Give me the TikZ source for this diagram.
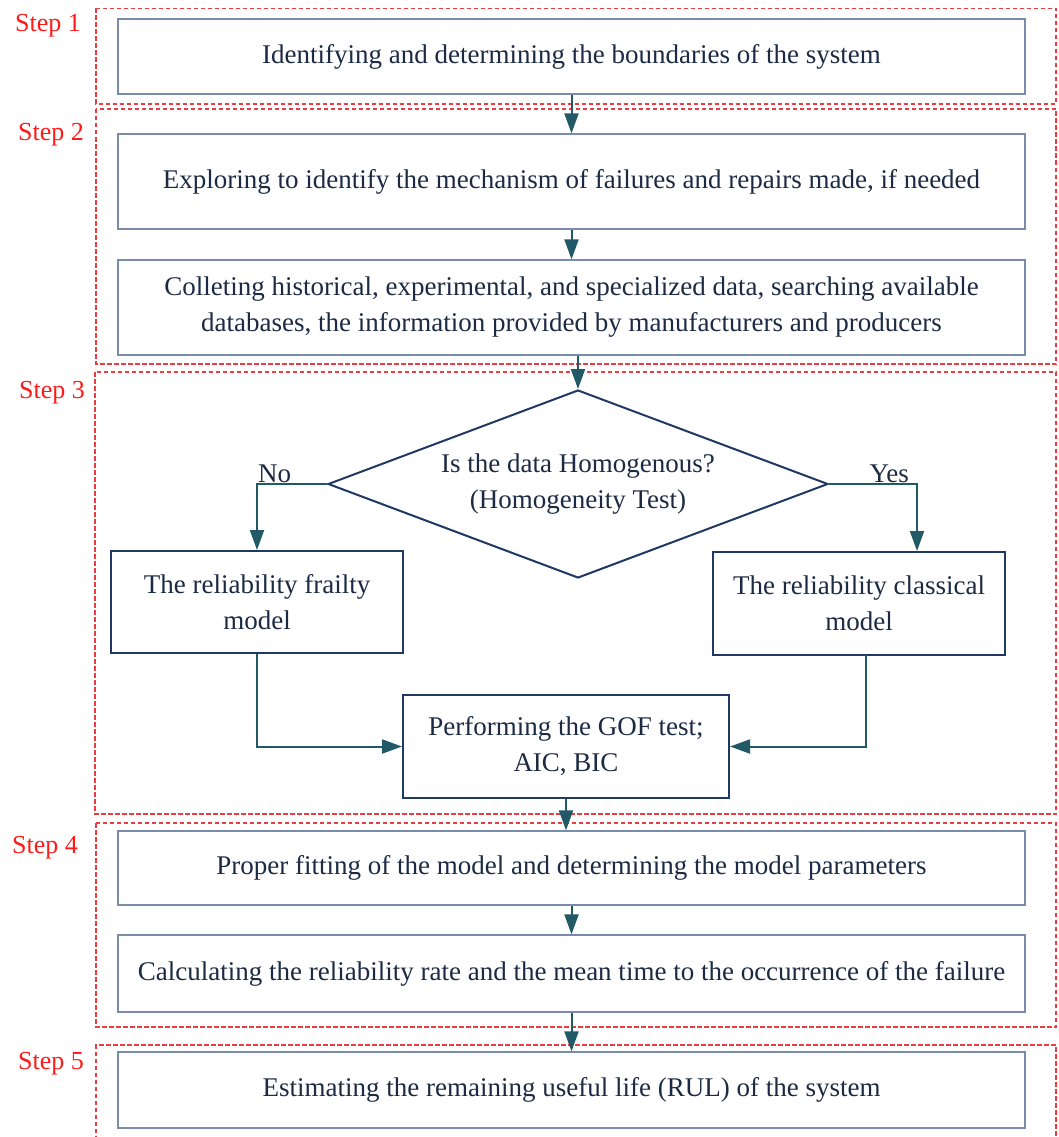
\documentclass[tikz,border=0pt]{standalone}
\usepackage{fontspec}
\setmainfont{Liberation Serif}
\usetikzlibrary{arrows.meta,shapes.geometric}
\definecolor{txt}{HTML}{1C2A44}
\definecolor{thinb}{HTML}{7A8CAB}
\definecolor{thickb}{HTML}{1F3864}
\definecolor{arr}{HTML}{215967}
\definecolor{reddash}{HTML}{EE3B42}
\definecolor{stepred}{HTML}{FF1A1A}
\begin{document}
\begin{tikzpicture}[x=1pt,y=-1pt,
  every node/.style={font=\fontsize{27}{36}\selectfont, text=txt},
  lightbox/.style={draw=thinb, line width=1.3pt, inner sep=0pt, align=center, fill=white},
  darkbox/.style={draw=thickb, line width=2pt, inner sep=0pt, align=center, fill=white},
  stage/.style={draw=reddash, line width=1.2pt, dash pattern=on 4.5pt off 2.5pt},
  steplabel/.style={font=\fontsize{26}{30}\selectfont, text=stepred, anchor=base, inner sep=0pt},
  flow/.style={draw=arr, line width=2pt, -{Triangle[width=14pt,length=20pt]}},
  branch/.style={anchor=base, inner sep=0pt}]
\useasboundingbox[fill=white] (0,0) rectangle (1058,1137);

% stage frames
\draw[stage] (96,8.5) rectangle (1056,104);
\draw[stage] (96,109) rectangle (1056,364);
\draw[stage] (95,372) rectangle (1056,814);
\draw[stage] (96,823) rectangle (1056,1027);
\draw[stage] (96,1140) -- (96,1045) -- (1056,1045) -- (1056,1140);

% step labels
\node[steplabel] (s1) at (48,32) {Step 1};
\node[steplabel] (s2) at (51,140) {Step 2};
\node[steplabel] (s3) at (52,398) {Step 3};
\node[steplabel] (s4) at (45,853) {Step 4};
\node[steplabel] (s5) at (51,1069) {Step 5};

% boxes
\node[lightbox, minimum width=907pt, minimum height=75pt] (b1) at (571.5,56.5)
  {Identifying and determining the boundaries of the system};
\node[lightbox, minimum width=907pt, minimum height=95pt] (b2) at (571.5,181.5)
  {Exploring to identify the mechanism of failures and repairs made, if needed};
\node[lightbox, minimum width=907pt, minimum height=95pt] (b3) at (571.5,307.5)
  {Colleting historical, experimental, and specialized data, searching available\\databases, the information provided by manufacturers and producers};
\node[draw=thickb, line width=2pt, diamond, inner sep=0pt, aspect=2.66,
  minimum width=500pt, minimum height=188pt, align=center] (d) at (578,484)
  {Is the data Homogenous?\\(Homogeneity Test)};
\node[darkbox, minimum width=292pt, minimum height=102pt] (fr) at (257,602)
  {The reliability frailty\\model};
\node[darkbox, minimum width=292pt, minimum height=103pt] (cl) at (859,603.5)
  {The reliability classical\\model};
\node[darkbox, minimum width=326pt, minimum height=103pt] (gof) at (566,746.5)
  {Performing the GOF test;\\AIC, BIC};
\node[lightbox, minimum width=907pt, minimum height=74pt] (b4) at (571.5,868)
  {Proper fitting of the model and determining the model parameters};
\node[lightbox, minimum width=907pt, minimum height=77pt] (b5) at (571.5,973.5)
  {Calculating the reliability rate and the mean time to the occurrence of the failure};
\node[lightbox, minimum width=907pt, minimum height=76pt] (b6) at (571.5,1090)
  {Estimating the remaining useful life (RUL) of the system};

% branch labels
\node[branch, anchor=base west] (no) at (258,482) {No};
\node[branch, anchor=base east] (yes) at (909,482) {Yes};

% helper coordinates
\coordinate (yc) at (917,484);
\coordinate (cb) at (866,655);

% connectors
\draw[flow] (b1) -- (b2);
\draw[flow] (b2) -- (b3);
\draw[flow] (d.north |- b3.south) -- (d.north);
\draw[flow] (d.west) -| (fr.north);
\draw[flow] (d.east) -- (yc) -- (yc |- cl.north);
\draw[flow] (fr.south) |- (gof.west);
\draw[flow] (cb) |- (gof.east);
\draw[flow] (gof.south) -- (gof.south |- b4.north);
\draw[flow] (b4) -- (b5);
\draw[flow] (b5) -- (b6);
\end{tikzpicture}
\end{document}
